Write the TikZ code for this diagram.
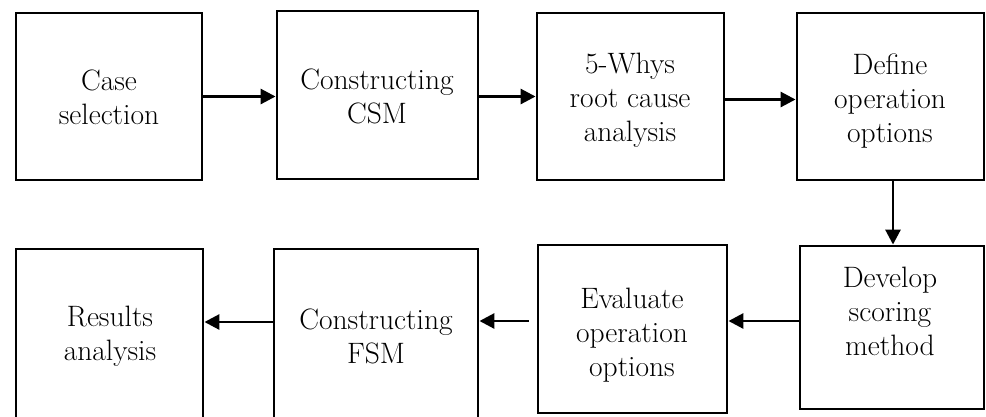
\documentclass[tikz,border=0pt]{standalone}
\usetikzlibrary{arrows.meta}
\begin{document}
\begin{tikzpicture}[x=1pt,y=-1pt,
  box/.style={draw=black,line width=2.9pt,inner sep=0pt,rectangle},
  lbl/.style={align=center,inner sep=0pt,font=\fontsize{29.5}{34}\selectfont},
  arr/.style={line width=2.9pt,-{Triangle[length=15pt,width=15pt]}}]
\useasboundingbox (0,0) rectangle (986,416);
\begin{scope}
\clip (0,0) rectangle (986,416);
% boxes: centre-line coordinates
\node[box,minimum width=186pt,minimum height=167pt] (b1) at (109,96.5) {};
\node[box,minimum width=201pt,minimum height=168pt] (b2) at (377.5,95) {};
\node[box,minimum width=187pt,minimum height=167pt] (b3) at (630.5,96.5) {};
\node[box,minimum width=187pt,minimum height=167pt] (b4) at (890.5,96.5) {};
\node[box,minimum width=187pt,minimum height=171pt] (b5) at (109.5,334.5) {};
\node[box,minimum width=204pt,minimum height=171pt] (b6) at (376,334.5) {};
\node[box,minimum width=189pt,minimum height=168pt] (b7) at (632.5,329) {};
\node[box,minimum width=184pt,minimum height=163pt] (b8) at (892,327.5) {};
\end{scope}
% labels
\node[lbl] (t1) at (109,97) {Case\\selection};
\node[lbl] (t2) at (377,96) {Constructing\\CSM};
\node[lbl] (t3) at (630,100) {5-Whys\\root cause\\analysis};
\node[lbl] (t4) at (890,101) {Define\\operation\\options};
\node[lbl] (t5) at (110,336) {Results\\analysis};
\node[lbl] (t6) at (376,336) {Constructing\\FSM};
\node[lbl] (t7) at (632,335) {Evaluate\\operation\\options};
\node[lbl] (t8) at (890,311) {Develop\\scoring\\method};
% connectors
\draw[arr] (b1.east) -- (b2.west |- b1.east);
\draw[arr] (b2.east |- b1.east) -- (b3.west);
\draw[arr] ([yshift=-3pt]b3.east) -- ([yshift=-3pt]b4.west);
\draw[arr] ([xshift=2.5pt]b4.south) -- ([xshift=2.5pt]b4.south |- b8.north);
\draw[arr] ([yshift=6.5pt]b8.west) -- ([yshift=6.5pt]b8.west -| b7.east);
\coordinate (g7) at ([xshift=-8pt,yshift=8pt]b7.west);
\draw[arr] (g7) -- (g7 -| b6.east);
\draw[arr] ([yshift=12.5pt]b6.west) -- ([yshift=12.5pt]b6.west -| b5.east);
\end{tikzpicture}
\end{document}
